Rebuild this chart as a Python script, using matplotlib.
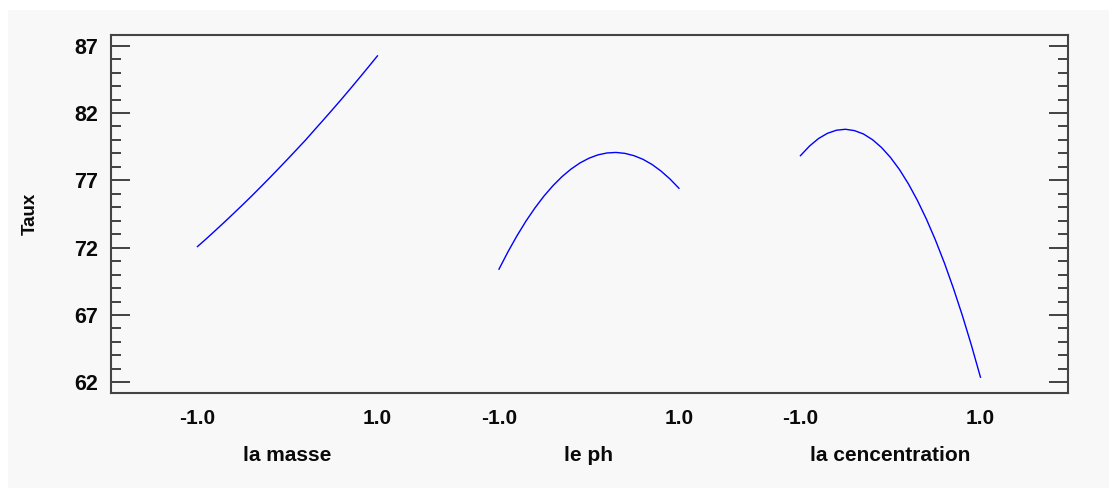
import matplotlib
matplotlib.use("Agg")
import matplotlib.pyplot as plt
from matplotlib.patches import Rectangle
from matplotlib.ticker import MultipleLocator
from matplotlib.transforms import blended_transform_factory

# ---- data ----
factors = ["la masse", "le ph", "la cencentration"]
levels = [-1.0, -0.9, -0.8, -0.7, -0.6, -0.5, -0.4, -0.3, -0.2, -0.1, 0.0,
          0.1, 0.2, 0.3, 0.4, 0.5, 0.6, 0.7, 0.8, 0.9, 1.0]
taux_masse = [72.08, 72.67, 73.28, 73.90, 74.53, 75.17, 75.82, 76.49, 77.17, 77.86, 78.56,
              79.27, 79.98, 80.74, 81.49, 82.25, 83.02, 83.81, 84.61, 85.42, 86.24]
taux_ph = [70.40, 71.69, 72.88, 73.97, 74.95, 75.83, 76.60, 77.27, 77.83, 78.29, 78.64,
           78.89, 79.03, 79.07, 79.00, 78.83, 78.56, 78.18, 77.69, 77.10, 76.41]
taux_conc = [78.83, 79.54, 80.10, 80.49, 80.72, 80.79, 80.69, 80.44, 80.02, 79.44, 78.70,
             77.80, 76.73, 75.50, 74.11, 72.56, 70.85, 68.97, 66.94, 64.74, 62.38]
series = [taux_masse, taux_ph, taux_conc]
x_tick_values = [-1.0, 1.0]
x_tick_labels = ["-1.0", "1.0"]
y_ticks = [62, 67, 72, 77, 82, 87]
y_label = "Taux"

# ---- layout ----
W, H = 1109, 488
fig = plt.figure(figsize=(W / 100, H / 100), dpi=100, facecolor="white")
fig.patches.append(Rectangle((8 / W, 0), 1, 1 - 10 / H, transform=fig.transFigure,
                             facecolor="#f8f8f8", edgecolor="none", zorder=-10))

left, right, top, bottom = 110.7, 1068.3, 35.0, 392.7
ax = fig.add_axes([left / W, 1 - bottom / H, (right - left) / W, (bottom - top) / H])
ax.set_facecolor("#f8f8f8")

spacing = 3.35
offsets = [i * spacing for i in range(len(factors))]

for off, vals in zip(offsets, series):
    ax.plot([off + v for v in levels], vals, color="#0000ff", lw=1.0)

ax.set_xlim(-1.964, 8.676)
ax.set_ylim(61.23, 87.79)

font = "Liberation Sans"
txt_color = "#0a0a0a"
xt, xl = [], []
for off in offsets:
    for v, lab in zip(x_tick_values, x_tick_labels):
        xt.append(off + v)
        xl.append(lab)
ax.set_xticks(xt)
ax.set_xticklabels(xl, fontsize=15, fontweight="bold", family=font, color=txt_color)
ax.tick_params(axis="x", length=0, pad=12)

ax.set_yticks(y_ticks)
ax.set_yticklabels([str(t) for t in y_ticks], fontsize=15.5, fontweight="bold",
                   family=font, color=txt_color)
ax.yaxis.set_minor_locator(MultipleLocator(1))
ax.tick_params(axis="y", which="major", direction="in", length=13.5, width=1.3,
               color="#333333", left=True, right=True, pad=9)
ax.tick_params(axis="y", which="minor", direction="in", length=7, width=1.3,
               color="#333333", left=True, right=True)

for s in ax.spines.values():
    s.set_color("#444444")
    s.set_linewidth(1.5)

trans = blended_transform_factory(ax.transData, ax.transAxes)
for off, name in zip(offsets, factors):
    ax.text(off, -0.19, name, transform=trans, ha="center", va="baseline",
            fontsize=15, fontweight="bold", family=font, color=txt_color)

fig.text(30 / W, 1 - 214 / H, y_label, rotation=90, ha="center", va="center",
         fontsize=13.5, fontweight="bold", family=font, color=txt_color)

fig.savefig("out.png", dpi=100, facecolor=fig.get_facecolor())
